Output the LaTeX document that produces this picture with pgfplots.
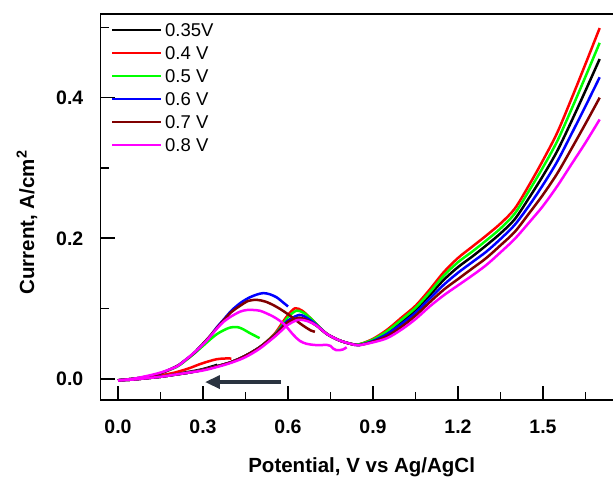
\documentclass[border=0pt]{standalone}
\usepackage{fontspec}
\setmainfont{Liberation Sans}
\usepackage{pgfplots}
\pgfplotsset{compat=1.18}
\usetikzlibrary{arrows.meta}
\definecolor{cmag}{RGB}{255,0,255}
\definecolor{cgreen}{RGB}{0,255,0}
\definecolor{cbrown}{RGB}{128,0,0}
\definecolor{carrow}{RGB}{42,51,64}
\begin{document}
\begin{tikzpicture}
\begin{axis}[
  at={(100.5pt,77pt)}, anchor=south west,
  scale only axis, width=527.5pt, height=386pt,
  xmin=-0.0618, xmax=1.80, ymin=-0.030, ymax=0.519,
  xtick={0,0.3,0.6,0.9,1.2,1.5}, xticklabels={0.0,0.3,0.6,0.9,1.2,1.5},
  minor xtick={0.15,0.45,0.75,1.05,1.35,1.65},
  ytick={0,0.2,0.4}, yticklabels={0.0,0.2,0.4},
  minor ytick={0.1,0.3,0.5},
  tick pos=left, tick align=inside,
  major tick length=14pt, minor tick length=8pt,
  every tick/.style={line width=1.6pt, black},
  axis line style={line width=1.8pt},
  ticklabel style={font=\bfseries\fontsize{19.5}{22}\selectfont},
  xticklabel style={anchor=base, inner sep=0pt, yshift=-33pt},
  yticklabel style={anchor=east, inner sep=0pt, xshift=-17pt},
  xlabel={\bfseries Potential, V vs Ag/AgCl},
  xlabel style={font=\fontsize{20.5}{24}\selectfont, at={(axis description cs:0.5,0)}, anchor=base, inner sep=0pt, yshift=-72pt, xshift=-2.6pt},
  ylabel={\bfseries Current, A/cm\textsuperscript{2}},
  ylabel style={font=\fontsize{20.5}{24}\selectfont, at={(axis description cs:-0.1393,0.4598)}, anchor=center, inner sep=0pt},
  legend cell align=left,
  legend image code/.code={\draw[#1, line width=2pt] (0pt,0pt) -- (49pt,0pt);},
  legend style={at={(axis description cs:0.0199,0.9767)}, anchor=north west, draw=none, fill=none,
    font=\fontsize{18.5}{22}\selectfont, inner sep=0pt, row sep=10pt,
    nodes={inner sep=0pt, text height=13pt, text depth=0pt},
    /tikz/every odd column/.style={column sep=3pt}},
  every axis plot/.append style={line width=2.5pt, smooth},
]
% ---- 0.35 V (black)
\addplot[black, forget plot] coordinates {(0.35,0.020) (0.30,0.014) (0.25,0.010) (0.20,0.007) (0.15,0.004) (0.10,0.002) (0.05,0.000) (0.00,-0.002)};
\addplot[black] coordinates {(0,-0.002) (0.05,-0.001) (0.10,0.001) (0.15,0.003) (0.20,0.006) (0.25,0.009) (0.30,0.013) (0.35,0.018) (0.40,0.024) (0.45,0.033) (0.50,0.045) (0.55,0.060) (0.575,0.069) (0.60,0.078) (0.625,0.084) (0.648,0.085) (0.675,0.082) (0.70,0.076) (0.737,0.064) (0.78,0.055) (0.82,0.050) (0.85,0.049) (0.90,0.055) (0.95,0.066) (1.00,0.081) (1.05,0.098) (1.10,0.119) (1.15,0.141) (1.20,0.159) (1.25,0.174) (1.30,0.190) (1.35,0.207) (1.40,0.227) (1.45,0.257) (1.50,0.289) (1.55,0.324) (1.60,0.366) (1.65,0.410) (1.70,0.455)};
\addlegendentry{0.35V}
% ---- 0.4 V (red)
\addplot[red, forget plot] coordinates {(0.40,0.029) (0.375,0.029) (0.348,0.028) (0.32,0.025) (0.289,0.021) (0.25,0.015) (0.20,0.009) (0.15,0.005) (0.10,0.002) (0.05,0.000) (0.00,-0.002)};
\addplot[red] coordinates {(0,-0.002) (0.05,-0.001) (0.10,0.001) (0.15,0.003) (0.20,0.006) (0.25,0.009) (0.30,0.013) (0.35,0.018) (0.40,0.024) (0.45,0.033) (0.50,0.045) (0.55,0.063) (0.575,0.077) (0.60,0.091) (0.625,0.1005) (0.65,0.097) (0.675,0.088) (0.70,0.078) (0.737,0.064) (0.78,0.055) (0.82,0.050) (0.85,0.049) (0.90,0.057) (0.95,0.070) (1.00,0.087) (1.05,0.104) (1.10,0.127) (1.15,0.152) (1.20,0.172) (1.25,0.188) (1.30,0.204) (1.35,0.221) (1.40,0.242) (1.45,0.275) (1.50,0.311) (1.55,0.350) (1.60,0.398) (1.65,0.448) (1.70,0.499)};
\addlegendentry{0.4 V}
% ---- 0.5 V (green)
\addplot[cgreen, forget plot] coordinates {(0.50,0.058) (0.466,0.065) (0.44,0.071) (0.42,0.0738) (0.395,0.073) (0.372,0.069) (0.35,0.064) (0.325,0.056) (0.30,0.047) (0.266,0.035) (0.235,0.025) (0.207,0.017) (0.15,0.008) (0.10,0.003) (0.05,0.000) (0,-0.002)};
\addplot[cgreen] coordinates {(0,-0.002) (0.05,-0.001) (0.10,0.001) (0.15,0.003) (0.20,0.006) (0.25,0.009) (0.30,0.013) (0.35,0.018) (0.40,0.024) (0.45,0.033) (0.50,0.045) (0.55,0.062) (0.575,0.074) (0.60,0.088) (0.63,0.097) (0.655,0.094) (0.68,0.086) (0.70,0.078) (0.737,0.064) (0.78,0.055) (0.82,0.050) (0.85,0.049) (0.90,0.056) (0.95,0.068) (1.00,0.084) (1.05,0.101) (1.10,0.123) (1.15,0.147) (1.20,0.166) (1.25,0.181) (1.30,0.197) (1.35,0.214) (1.40,0.235) (1.45,0.267) (1.50,0.301) (1.55,0.338) (1.60,0.383) (1.65,0.430) (1.70,0.478)};
\addlegendentry{0.5 V}
% ---- 0.6 V (blue)
\addplot[blue, forget plot] coordinates {(0.60,0.103) (0.585,0.108) (0.56,0.116) (0.535,0.1205) (0.513,0.122) (0.49,0.120) (0.46,0.115) (0.431,0.1077) (0.40,0.097) (0.372,0.084) (0.35,0.074) (0.325,0.061) (0.30,0.050) (0.266,0.036) (0.235,0.026) (0.207,0.018) (0.15,0.008) (0.10,0.003) (0.05,0.000) (0,-0.002)};
\addplot[blue] coordinates {(0,-0.002) (0.05,-0.001) (0.10,0.001) (0.15,0.003) (0.20,0.006) (0.25,0.009) (0.30,0.013) (0.35,0.018) (0.40,0.024) (0.45,0.033) (0.50,0.045) (0.55,0.061) (0.575,0.072) (0.60,0.083) (0.64,0.091) (0.67,0.086) (0.70,0.077) (0.737,0.064) (0.78,0.055) (0.82,0.050) (0.85,0.048) (0.90,0.054) (0.95,0.064) (1.00,0.078) (1.05,0.094) (1.10,0.114) (1.15,0.134) (1.20,0.151) (1.25,0.166) (1.30,0.181) (1.35,0.199) (1.40,0.219) (1.45,0.246) (1.50,0.276) (1.55,0.309) (1.60,0.348) (1.65,0.388) (1.70,0.429)};
\addlegendentry{0.6 V}
% ---- 0.7 V (brown)
\addplot[cbrown, forget plot] coordinates {(0.695,0.067) (0.68,0.069) (0.66,0.074) (0.642,0.079) (0.62,0.086) (0.595,0.0934) (0.57,0.100) (0.548,0.105) (0.52,0.110) (0.49,0.1124) (0.46,0.111) (0.431,0.104) (0.40,0.095) (0.372,0.083) (0.35,0.073) (0.325,0.061) (0.30,0.050) (0.266,0.036) (0.235,0.026) (0.207,0.018) (0.15,0.008) (0.10,0.003) (0.05,0.000) (0,-0.002)};
\addplot[cbrown] coordinates {(0,-0.002) (0.05,-0.001) (0.10,0.001) (0.15,0.003) (0.20,0.006) (0.25,0.009) (0.30,0.013) (0.35,0.018) (0.40,0.024) (0.45,0.033) (0.50,0.045) (0.55,0.061) (0.575,0.071) (0.60,0.081) (0.64,0.087) (0.67,0.083) (0.70,0.076) (0.737,0.064) (0.78,0.055) (0.82,0.050) (0.85,0.048) (0.90,0.053) (0.95,0.061) (1.00,0.074) (1.05,0.090) (1.10,0.109) (1.15,0.127) (1.20,0.142) (1.25,0.157) (1.30,0.172) (1.35,0.190) (1.40,0.209) (1.45,0.235) (1.50,0.262) (1.55,0.292) (1.60,0.327) (1.65,0.363) (1.70,0.400)};
\addlegendentry{0.7 V}
% ---- 0.8 V (magenta)
\addplot[cmag, forget plot] coordinates {(0.807,0.045) (0.795,0.042) (0.784,0.041) (0.77,0.041) (0.76,0.043) (0.75,0.047) (0.737,0.0484) (0.71,0.048) (0.69,0.0484) (0.665,0.050) (0.642,0.054) (0.619,0.0626) (0.589,0.0768) (0.57,0.083) (0.548,0.0886) (0.52,0.094) (0.50,0.097) (0.478,0.098) (0.455,0.098) (0.431,0.0957) (0.40,0.089) (0.372,0.081) (0.35,0.072) (0.325,0.060) (0.30,0.049) (0.266,0.0365) (0.235,0.026) (0.207,0.0175) (0.15,0.009) (0.10,0.004) (0.05,0.000) (0,-0.002)};
\addplot[cmag] coordinates {(0,-0.002) (0.05,-0.001) (0.10,0.001) (0.15,0.003) (0.20,0.006) (0.25,0.009) (0.30,0.012) (0.35,0.017) (0.40,0.023) (0.45,0.031) (0.50,0.043) (0.55,0.059) (0.575,0.068) (0.60,0.077) (0.636,0.084) (0.67,0.082) (0.70,0.076) (0.737,0.064) (0.78,0.055) (0.82,0.050) (0.85,0.048) (0.90,0.052) (0.95,0.058) (1.00,0.070) (1.05,0.085) (1.10,0.103) (1.15,0.119) (1.20,0.133) (1.25,0.147) (1.30,0.162) (1.35,0.180) (1.40,0.199) (1.45,0.222) (1.50,0.246) (1.55,0.274) (1.60,0.305) (1.65,0.336) (1.70,0.369)};
\addlegendentry{0.8 V}
% arrow
\draw[carrow, line width=3.5pt, -{Triangle[length=15pt,width=13pt]}] (axis cs:0.575,-0.0045) -- (axis cs:0.307,-0.0045);
\end{axis}
\pgfresetboundingbox
\useasboundingbox (0,0) rectangle (613pt,477pt);
\end{tikzpicture}
\end{document}
